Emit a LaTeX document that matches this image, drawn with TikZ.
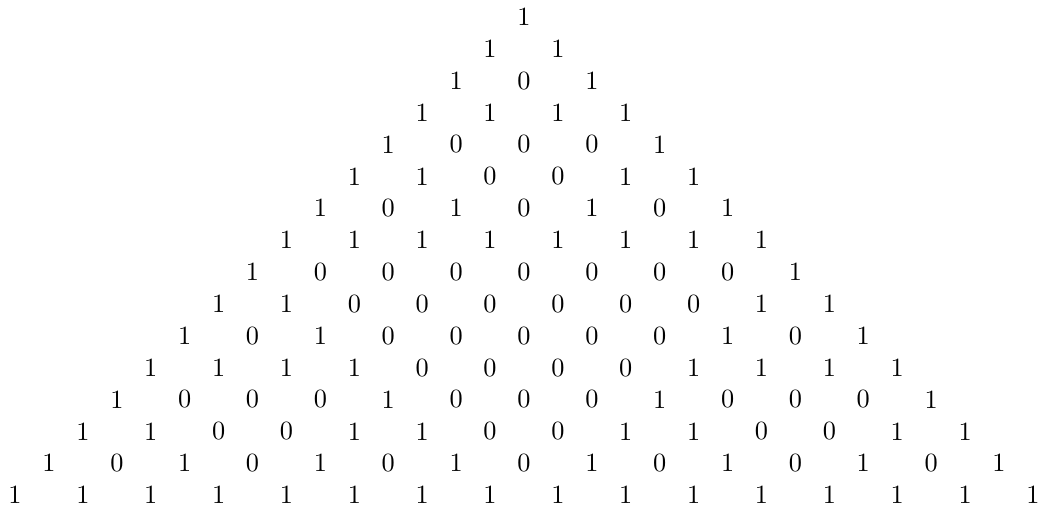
\documentclass[tikz,border=0pt]{standalone}
\begin{document}
\begin{tikzpicture}[x=0.38pt,y=0.38pt,
  entry/.style={inner sep=0pt, font=\fontsize{10}{12}\selectfont}]
\useasboundingbox (0,0) rectangle (1041,-508);
\foreach \row [count=\r from 0] in {
  {1},
  {1,1},
  {1,0,1},
  {1,1,1,1},
  {1,0,0,0,1},
  {1,1,0,0,1,1},
  {1,0,1,0,1,0,1},
  {1,1,1,1,1,1,1,1},
  {1,0,0,0,0,0,0,0,1},
  {1,1,0,0,0,0,0,0,1,1},
  {1,0,1,0,0,0,0,0,1,0,1},
  {1,1,1,1,0,0,0,0,1,1,1,1},
  {1,0,0,0,1,0,0,0,1,0,0,0,1},
  {1,1,0,0,1,1,0,0,1,1,0,0,1,1},
  {1,0,1,0,1,0,1,0,1,0,1,0,1,0,1},
  {1,1,1,1,1,1,1,1,1,1,1,1,1,1,1,1}}{
  \foreach \v [count=\k from 0] in \row {
    \node[entry] (n-\r-\k) at ({524+(2*\k-\r)*33.93},{-17-\r*31.87}) {\v};
  }
}
\end{tikzpicture}
\end{document}
